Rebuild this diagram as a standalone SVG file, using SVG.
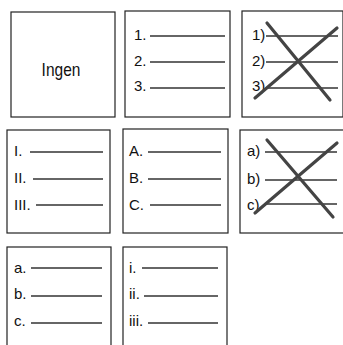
<svg xmlns="http://www.w3.org/2000/svg" width="343" height="345" viewBox="0 0 343 345">
<style>
.box{fill:#fff;stroke:#222;stroke-width:1.2}
.lbl{font-family:"Liberation Sans",Arial,sans-serif;font-size:15px;fill:#111}
.ln{stroke:#333;stroke-width:1.3}
.x{stroke:#444;stroke-width:3.2;stroke-linecap:round}
</style>
<rect width="343" height="345" fill="#fff"/>
<g id="none">
<rect class="box" x="11" y="12" width="104" height="105"/>
<text class="lbl" x="0" y="0" text-anchor="middle" transform="translate(61,76) scale(1,1.2)" style="font-size:15.5px">Ingen</text>
</g>
<g id="numbers">
<rect class="box" x="125" y="11" width="105" height="106"/>
<text class="lbl" x="134" y="40">1.</text><line class="ln" x1="150" y1="36" x2="225" y2="36"/>
<text class="lbl" x="134" y="66">2.</text><line class="ln" x1="150" y1="62" x2="225" y2="62"/>
<text class="lbl" x="134" y="91">3.</text><line class="ln" x1="150" y1="88" x2="225" y2="88"/>
</g>
<g id="numbers-paren">
<rect class="box" x="242" y="11" width="101" height="106"/>
<text class="lbl" x="252" y="40">1)</text><line class="ln" x1="266" y1="36" x2="338" y2="36"/>
<text class="lbl" x="252" y="66">2)</text><line class="ln" x1="266" y1="62" x2="338" y2="62"/>
<text class="lbl" x="252" y="91">3)</text><line class="ln" x1="266" y1="88" x2="338" y2="88"/>
<line class="x" x1="267" y1="23" x2="330" y2="100"/>
<line class="x" x1="255" y1="98" x2="337" y2="28"/>
</g>
<g id="roman-upper">
<rect class="box" x="7" y="130" width="103" height="103"/>
<text class="lbl" x="14" y="156">I.</text><line class="ln" x1="30" y1="152" x2="103" y2="152"/>
<text class="lbl" x="14" y="183">II.</text><line class="ln" x1="33" y1="179" x2="103" y2="179"/>
<text class="lbl" x="14" y="210">III.</text><line class="ln" x1="36" y1="205" x2="103" y2="205"/>
</g>
<g id="alpha-upper">
<rect class="box" x="123" y="129" width="105" height="104"/>
<text class="lbl" x="129" y="156">A.</text><line class="ln" x1="148" y1="152" x2="221" y2="152"/>
<text class="lbl" x="129" y="183">B.</text><line class="ln" x1="148" y1="179" x2="221" y2="179"/>
<text class="lbl" x="129" y="210">C.</text><line class="ln" x1="150" y1="205" x2="221" y2="205"/>
</g>
<g id="alpha-paren">
<rect class="box" x="240" y="130" width="104" height="103"/>
<text class="lbl" x="247" y="156">a)</text><line class="ln" x1="265" y1="152" x2="337" y2="152"/>
<text class="lbl" x="247" y="184">b)</text><line class="ln" x1="265" y1="180" x2="337" y2="180"/>
<text class="lbl" x="247" y="210">c)</text><line class="ln" x1="265" y1="204" x2="337" y2="204"/>
<line class="x" x1="267" y1="140" x2="333" y2="217"/>
<line class="x" x1="255" y1="213" x2="337" y2="143"/>
</g>
<g id="alpha-lower">
<rect class="box" x="7" y="247" width="104" height="110"/>
<text class="lbl" x="14" y="273">a.</text><line class="ln" x1="31" y1="268" x2="102" y2="268"/>
<text class="lbl" x="14" y="299">b.</text><line class="ln" x1="31" y1="296" x2="102" y2="296"/>
<text class="lbl" x="14" y="326">c.</text><line class="ln" x1="31" y1="323" x2="102" y2="323"/>
</g>
<g id="roman-lower">
<rect class="box" x="123" y="247" width="104" height="110"/>
<text class="lbl" x="129" y="273">i.</text><line class="ln" x1="142" y1="268" x2="218" y2="268"/>
<text class="lbl" x="129" y="299">ii.</text><line class="ln" x1="144" y1="296" x2="218" y2="296"/>
<text class="lbl" x="129" y="326">iii.</text><line class="ln" x1="148" y1="323" x2="218" y2="323"/>
</g>
</svg>
